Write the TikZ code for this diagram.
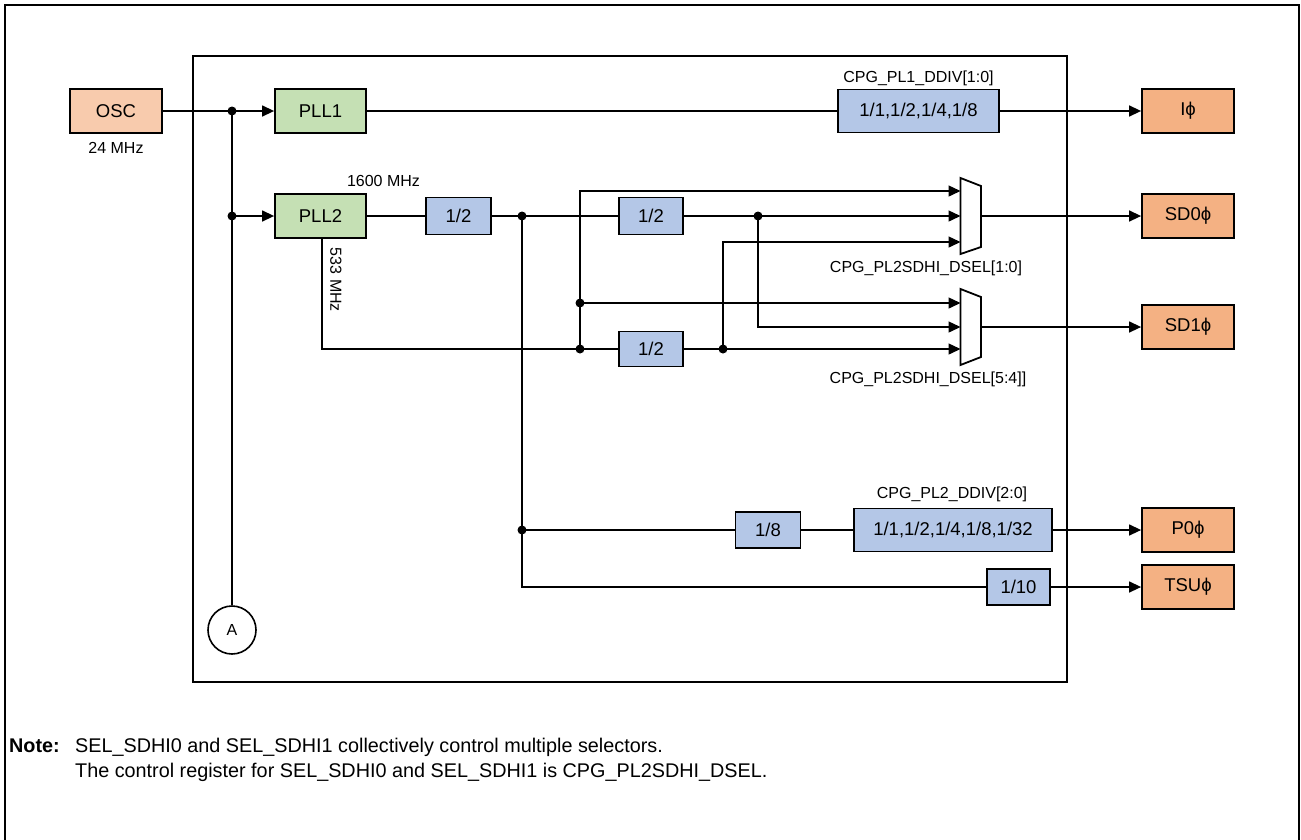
\documentclass[tikz,border=0pt]{standalone}
\usepackage{fontspec}
\setmainfont{Liberation Sans}
\usetikzlibrary{arrows.meta}
\definecolor{oscc}{HTML}{F8CBAD}
\definecolor{outc}{HTML}{F4B183}
\definecolor{pllc}{HTML}{C5E0B4}
\definecolor{divc}{HTML}{B4C7E7}
\newcommand\mainf{\fontsize{18.5}{22}\selectfont}
\newcommand\smallf{\fontsize{16}{19}\selectfont}
\newcommand\notef{\fontsize{19.8}{24}\selectfont}
\begin{document}
\begin{tikzpicture}[x=1pt,y=-1pt,
  blk/.style={draw=black, line width=1.8pt, inner sep=0pt, font=\mainf},
  oscbox/.style={blk, fill=oscc, minimum width=92pt, minimum height=44pt},
  outbox/.style={blk, fill=outc, minimum width=92pt, minimum height=44pt},
  pllbox/.style={blk, fill=pllc, minimum width=91pt, minimum height=44pt},
  divbox/.style={blk, fill=divc, minimum height=37pt},
  wire/.style={line width=1.4pt},
  arr/.style={wire, -{Triangle[length=12pt,width=11pt]}},
  jdot/.style={circle, fill=black, inner sep=0pt, minimum size=9pt},
  lbl/.style={font=\smallf, inner sep=0pt},
  frame/.style={line width=2pt}]
\useasboundingbox (0,0) rectangle (1301,839);
\fill[white] (0,0) rectangle (1301,839);
% frames
\draw[frame] (5,850) -- (5,5) -- (1299,5) -- (1299,850);
\draw[frame] (193,56) rectangle (1067,682);

% blocks
\node[oscbox] (osc) at (116,111) {OSC};
\node[lbl] (f24) at (116,148) {24 MHz};
\node[pllbox] (pll1) at (320.5,111) {PLL1};
\node[pllbox] (pll2) at (320.5,216) {PLL2};
\node[lbl] (f1600) at (383.5,181) {1600 MHz};
\node[lbl, rotate=-90] (f533) at (336,280) {533 MHz};
\node[divbox, minimum width=65pt] (dA) at (458.5,216) {1/2};
\node[divbox, minimum width=64pt] (dB) at (651,216) {1/2};
\node[divbox, minimum width=64pt, minimum height=35pt] (dC) at (651,349) {1/2};
\node[divbox, minimum width=161pt, minimum height=43pt] (pl1div) at (918.5,111) {1/1,1/2,1/4,1/8};
\node[lbl] (pl1lab) at (918.5,78) {CPG\_PL1\_DDIV[1:0]};
\node[divbox, minimum width=65pt, minimum height=36pt] (d8) at (768,530) {1/8};
\node[divbox, minimum width=198pt, minimum height=43pt] (pl2div) at (953,530) {1/1,1/2,1/4,1/8,1/32};
\node[lbl] (pl2lab) at (952,494) {CPG\_PL2\_DDIV[2:0]};
\node[divbox, minimum width=63pt, minimum height=36pt] (d10) at (1018.5,587) {1/10};

\node[outbox] (iphi) at (1188,111) {Iϕ};
\node[outbox] (sd0) at (1188,216) {SD0ϕ};
\node[outbox] (sd1) at (1188,327) {SD1ϕ};
\node[outbox] (p0) at (1188,530) {P0ϕ};
\node[outbox] (tsu) at (1188,587) {TSUϕ};

\node[circle, draw, line width=1.6pt, minimum size=48pt, inner sep=0pt, font=\smallf] (A) at (232,630) {A};

% selectors
\draw[line width=1.8pt] (960.5,178) -- (981,186) -- (981,247) -- (960.5,254) -- cycle;
\draw[line width=1.8pt] (960.5,289) -- (981,297) -- (981,357) -- (960.5,365) -- cycle;
\coordinate (m1a) at (960.5,191);
\coordinate (m1b) at (960.5,216);
\coordinate (m1c) at (960.5,242);
\coordinate (m1o) at (981,216);
\coordinate (m2a) at (960.5,303);
\coordinate (m2b) at (960.5,327);
\coordinate (m2c) at (960.5,349);
\coordinate (m2o) at (981,327);
\node[lbl] (sel0) at (926,268) {CPG\_PL2SDHI\_DSEL[1:0]};
\node[lbl] (sel1) at (928,379) {CPG\_PL2SDHI\_DSEL[5:4]]};

% junctions
\coordinate (j1) at (232,111);
\coordinate (j2) at (232,216);
\coordinate (j3) at (522,216);
\coordinate (j4) at (758,216);
\coordinate (j5) at (580,303);
\coordinate (j6) at (580,349);
\coordinate (j7) at (723,349);
\coordinate (j8) at (522,530);
\coordinate (c4) at (322,349);

% wires
\draw[wire] (osc) -- (j1);
\draw[arr] (j1) -- (pll1);
\draw[wire] (j1) -- (A);
\draw[arr] (j2) -- (pll2);
\draw[wire] (pll1) -- (pl1div);
\draw[arr] (pl1div) -- (iphi);
\draw[wire] (pll2) -- (dA);
\draw[wire] (dA) -- (j3) -- (dB);
\draw[wire] (dB) -- (j4);
\draw[arr] (j4) -- (m1b);
\draw[arr] (j4) |- (m2b);
\draw[arr] (j6) |- (m1a);
\draw[arr] (j5) -- (m2a);
\draw[wire] (pll2.south -| c4) -- (c4) -- (j6);
\draw[wire] (j6) -- (dC);
\draw[wire] (dC) -- (j7);
\draw[arr] (j7) -- (m2c);
\draw[arr] (j7) |- (m1c);
\draw[arr] (m1o) -- (sd0);
\draw[arr] (m2o) -- (sd1);
\draw[wire] (j3) |- (d10);
\draw[arr] (d10) -- (tsu);
\draw[wire] (j8) -- (d8);
\draw[wire] (d8) -- (pl2div);
\draw[arr] (pl2div) -- (p0);

\foreach \j in {j1,j2,j3,j4,j5,j6,j7,j8} \node[jdot] at (\j) {};

% note
\node[anchor=base west, inner sep=0pt, font=\notef\bfseries] (note) at (9,752) {Note:};
\node[anchor=base west, inner sep=0pt, font=\notef] (nt1) at (75,752) {SEL\_SDHI0 and SEL\_SDHI1 collectively control multiple selectors.};
\node[anchor=base west, inner sep=0pt, font=\notef] (nt2) at (75,777) {The control register for SEL\_SDHI0 and SEL\_SDHI1 is CPG\_PL2SDHI\_DSEL.};
\end{tikzpicture}
\end{document}
